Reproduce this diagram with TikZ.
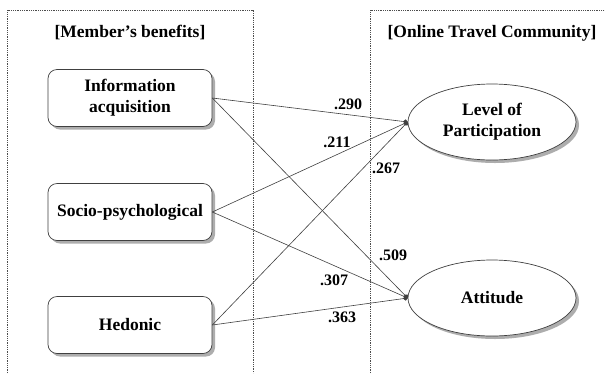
\documentclass[tikz,border=0pt]{standalone}
\usepackage{fontspec}
\setmainfont{Liberation Serif}
\usetikzlibrary{arrows.meta,shadows,shapes.geometric}
\begin{document}
\begin{tikzpicture}[x=1pt,y=-1pt,
  frame/.style={draw=black!70,densely dotted,line width=0.8pt},
  title/.style={font=\bfseries\fontsize{17.5}{21}\selectfont},
  benefit/.style={draw=black!75,line width=0.7pt,fill=white,rounded corners=9pt,
    minimum width=164pt,minimum height=57pt,align=center,inner sep=2pt,
    font=\bfseries\fontsize{17.5}{21}\selectfont,
    drop shadow={shadow xshift=3pt,shadow yshift=-3pt,fill=black!40,opacity=0.8}},
  outcome/.style={ellipse,draw=black!75,line width=0.7pt,fill=white,
    minimum width=168pt,minimum height=76pt,align=center,inner sep=0pt,
    font=\bfseries\fontsize{17.5}{21}\selectfont,
    drop shadow={shadow xshift=3pt,shadow yshift=-3pt,fill=black!40,opacity=0.8}},
  path/.style={draw=black!75,line width=0.6pt,-{Circle[length=4.5pt]}},
  coef/.style={font=\bfseries\fontsize{16}{18}\selectfont,inner sep=1pt}]
\useasboundingbox[fill=white] (0,0) rectangle (605,373);

% dotted group frames
\draw[frame] (7,373) -- (7,10) -- (253,10) -- (253,373);
\draw[frame] (370,373) -- (370,10) -- (605,10);

\node[title] (lefttitle) at (130,33) {[Member’s benefits]};
\node[title] (righttitle) at (492,33) {[Online Travel Community]};

% benefit constructs
\node[benefit] (info) at (130,98) {Information\\acquisition};
\node[benefit] (socio) at (130,212) {Socio-psychological};
\node[benefit] (hedo) at (130,325) {Hedonic};

% outcome constructs
\node[outcome] (lp) at (492,122) {Level of\\Participation};
\node[outcome] (att) at (492,298) {Attitude};

% structural paths
\draw[path] (info.east) -- (lp.west);
\draw[path] (info.east) -- (att.west);
\draw[path] (socio.east) -- (lp.west);
\draw[path] (socio.east) -- (att.west);
\draw[path] (hedo.east) -- (lp.west);
\draw[path] (hedo.east) -- (att.west);

% path coefficients
\node[coef] (c1) at (348,104) {.290};
\node[coef] (c2) at (337,142) {.211};
\node[coef] (c3) at (386,168) {.267};
\node[coef] (c4) at (393,255) {.509};
\node[coef] (c5) at (334,280) {.307};
\node[coef] (c6) at (342,317) {.363};
\end{tikzpicture}
\end{document}
